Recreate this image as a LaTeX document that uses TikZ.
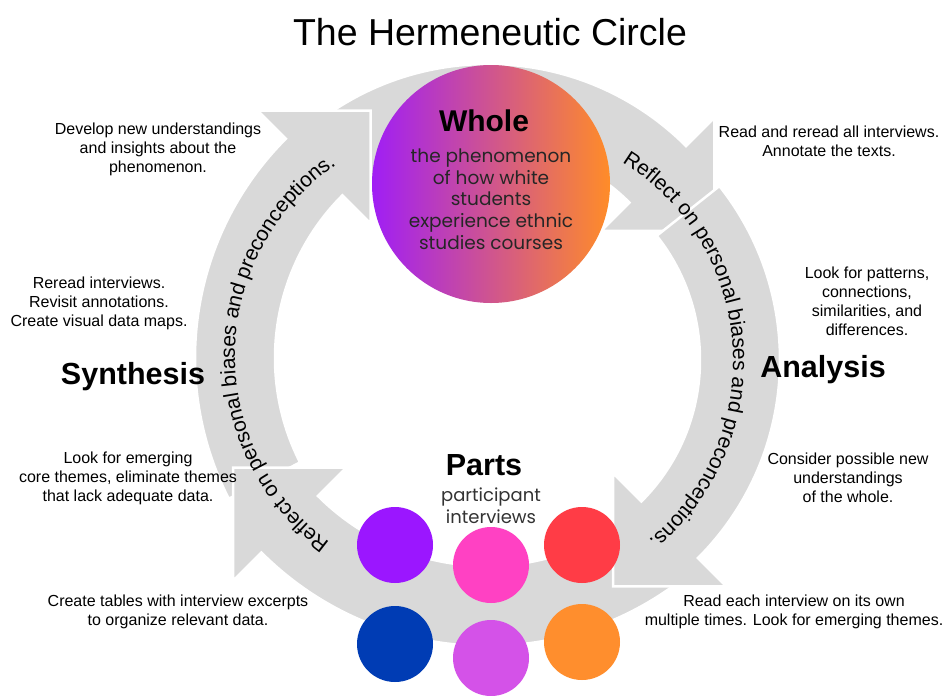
\documentclass[tikz,border=0pt]{standalone}
\usepackage{fontspec}
\setmainfont{Liberation Sans}
\newfontfamily\popp{Poppins}
\usetikzlibrary{calc,decorations.text}
\definecolor{band}{RGB}{217,217,217}
\definecolor{wl}{RGB}{160,30,245}
\definecolor{wr}{RGB}{255,140,40}
\definecolor{ipurple}{RGB}{155,22,255}
\definecolor{ipink}{RGB}{255,65,195}
\definecolor{ired}{RGB}{255,60,70}
\definecolor{inavy}{RGB}{0,60,180}
\definecolor{iorchid}{RGB}{212,82,232}
\definecolor{iorange}{RGB}{255,142,45}
\newcommand\bandarrow[4]{%
 \fill[band, draw=white, line width=2.5pt, line join=miter]
 ($(#1)+({#3}:{#2+40})$) arc[start angle={#3}, end angle={#4}, radius={#2+40}]
 -- ($(#1)+({#4}:{#2+80})$) -- ($(#1)+({#4}:{#2})+({#4-90}:80)$)
 -- ($(#1)+({#4}:{#2-80})$) -- ($(#1)+({#4}:{#2-40})$)
 arc[start angle={#4}, end angle={#3}, radius={#2-40}] -- cycle;}
\newcommand\arcfont{\fontsize{21}{25}\selectfont}
\tikzset{
 annot/.style={align=center, font=\fontsize{16}{19}\selectfont, text=black, inner sep=0pt},
 biglbl/.style={font=\fontsize{30.5}{36}\selectfont\bfseries, inner sep=0pt},
 dot/.style={circle, minimum size=76pt, inner sep=0pt},
 arctext/.style={decorate, decoration={text along path, text align=center, text color=black, text={|\arcfont|#1}}}
}
\begin{document}
\begin{tikzpicture}[x=1pt,y=1pt]
\useasboundingbox[fill=white] (0,0) rectangle (945,-696);
\coordinate (cT) at (488,-344);
\coordinate (cL) at (505,-358);
\coordinate (cB) at (487,-327);
\coordinate (cR) at (500,-360);
\coordinate (tL) at (466,-356);
\coordinate (tR) at (500,-361);
% band arrows
\bandarrow{cT}{240}{128}{45}
\bandarrow{cL}{270}{207}{135}
\bandarrow{cB}{279}{-52}{-135}
\bandarrow{cR}{240}{38.4}{-45}
% text along arcs
\path[arctext={Reflect on personal biases and preconceptions.}] ($(tR)+(65:233)$) arc[start angle=65, end angle=-57, radius=233];
\path[arctext={Reflect on personal biases and preconceptions.}] ($(tL)+(240:231)$) arc[start angle=240, end angle=118, radius=231];
% whole
\node[circle, minimum size=238pt, inner sep=0pt, left color=wl, right color=wr] (whole) at (491,-184) {};
\node[font=\fontsize{30}{36}\selectfont\bfseries, inner sep=0pt] (wholet) at (484,-121) {Whole};
\node[align=center, font=\popp\fontsize{18.5}{21.7}\selectfont, text=black!85, inner sep=0pt] (wholeb) at (491,-199) {the phenomenon\\of how white\\students\\experience ethnic\\studies courses};
% title
\node[font=\fontsize{37.5}{44}\selectfont, inner sep=0pt] (title) at (490,-32) {The Hermeneutic Circle};
% parts
\node[biglbl] (parts) at (484,-465) {Parts};
\node[align=center, font=\popp\fontsize{18}{22}\selectfont, text=black!80, inner sep=0pt] (partsb) at (491,-506) {participant\\interviews};
\node[dot, fill=ipurple] (c1) at (395,-545) {};
\node[dot, fill=ipink] (c2) at (491,-565) {};
\node[dot, fill=ired] (c3) at (582,-545) {};
\node[dot, fill=inavy] (c4) at (395,-644) {};
\node[dot, fill=iorchid] (c5) at (491,-658) {};
\node[dot, fill=iorange] (c6) at (582,-642) {};
% stage labels
\node[biglbl] (synth) at (133,-377) {Synthesis};
\node[biglbl] (anal) at (823,-370) {Analysis};
% annotations
\node[annot] (a1) at (158,-149) {Develop new understandings\\and insights about the\\phenomenon.};
\node[annot] (a2) at (99,-303) {Reread interviews.\\Revisit annotations.\\Create visual data maps.};
\node[annot] (a3) at (128,-478) {Look for emerging\\core themes, eliminate themes\\that lack adequate data.};
\node[annot] (a4) at (178,-612) {Create tables with interview excerpts\\to organize relevant data.};
\node[annot] (a5) at (794,-612) {Read each interview on its own\\multiple times. Look for emerging themes.};
\node[annot] (a6) at (829,-141) {Read and reread all interviews.\\Annotate the texts.};
\node[annot] (a7) at (867,-301) {Look for patterns,\\connections,\\similarities, and\\differences.};
\node[annot] (a8) at (848,-478) {Consider possible new\\understandings\\of the whole.};
\end{tikzpicture}
\end{document}
